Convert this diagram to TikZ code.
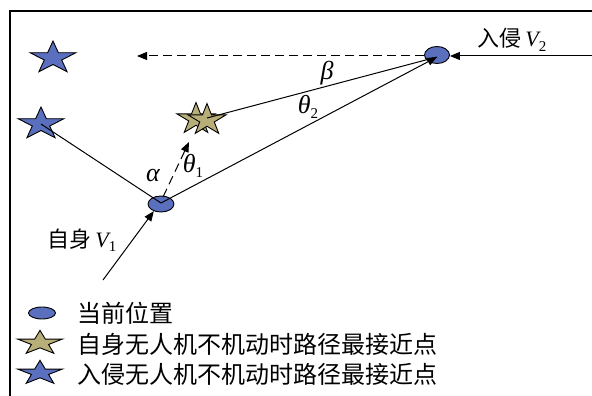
\documentclass[tikz,border=0pt]{standalone}
\usepackage{fontspec}
\setmainfont{Liberation Serif}
\newfontfamily\cjk{Noto Sans CJK SC}
\usetikzlibrary{arrows.meta,shapes.geometric}
\definecolor{uavblue}{RGB}{90,111,190}
\definecolor{uavkhaki}{RGB}{184,174,120}
\newcommand\lowidx[1]{\raisebox{-0.45ex}{\fontsize{15}{15}\selectfont\upshape #1}}
\newcommand\mystar[5]{%
  \begin{scope}[shift={(#1,#2)},xscale=#3,yscale=-#4]
    \draw[fill=#5,line width=0.9pt,line join=miter]
      (90:1) -- (126:0.382) -- (162:1) -- (198:0.382) -- (234:1) -- (270:0.382)
      -- (306:1) -- (342:0.382) -- (18:1) -- (54:0.382) -- cycle;
  \end{scope}}
\tikzset{
  conn/.style={line width=1pt},
  tip/.style={-{Triangle[length=10pt,width=8pt]}},
  dashconn/.style={line width=1pt,dash pattern=on 9pt off 5pt},
  uav/.style={ellipse,draw,fill=uavblue,line width=0.9pt,inner sep=0pt},
  lbl/.style={inner sep=0pt,font=\fontsize{22}{24}\selectfont},
  glbl/.style={inner sep=0pt,font=\fontsize{26}{28}\selectfont\itshape},
  leg/.style={inner sep=0pt,anchor=west,font=\fontsize{24}{26}\selectfont\cjk},
}
\begin{document}
\begin{tikzpicture}[x=1pt,y=-1pt]
\useasboundingbox (0,0) rectangle (592,396);
\fill[white] (0,0) rectangle (592,396);
% frame
\coordinate (fr0) at (10,396);
\coordinate (fr1) at (10,11);
\coordinate (fr2) at (592,11);
\draw[line width=1.3pt] (fr0) -- (fr1) -- (fr2);

% stars
\mystar{53}{58}{24}{17}{uavblue}
\mystar{41}{124}{24}{17}{uavblue}
\mystar{196}{119}{20}{16.5}{uavkhaki}
\mystar{207}{120}{20}{16.5}{uavkhaki}
\coordinate (s2) at (41,124);
\coordinate (ks) at (207,118);

% UAV positions
\node[uav,minimum width=26pt,minimum height=16pt] (v1) at (161,204) {};
\node[uav,minimum width=25pt,minimum height=17pt] (v2) at (437,55) {};
\coordinate (v1c) at (161,203);
\coordinate (v2c) at (437,57);

% connectors
\draw[conn] (s2) -- (v1c);
\draw[conn,tip] (v1c) -- (v2c);
\draw[conn] (ks) -- (v2c);
\coordinate (dtip) at (189,142);
\coordinate (dstart) at (163,197);
\draw[dashconn,tip] (dstart) -- (dtip);
\coordinate (htip) at (137,56);
\draw[dashconn,tip] (v2.west |- htip) -- (htip);
\coordinate (v2in) at (592,56);
\draw[conn,tip] (v2in) -- (v2.east |- v2in);
\coordinate (v1in) at (103,280);
\draw[conn,tip] (v1in) -- (v1.-135);

% labels
\node[glbl] (la) at (153,176) {α};
\node[glbl] (lt1) at (193,166) {θ\lowidx{1}};
\node[glbl] (lb) at (327,73) {β};
\node[glbl] (lt2) at (308,107) {θ\lowidx{2}};
\node[lbl] (lv2) at (512,40) {{\cjk 入侵}\,\itshape V\lowidx{2}};
\node[lbl] (lv1) at (82,240) {{\cjk 自身}\,\itshape V\lowidx{1}};

% legend
\node[uav,minimum width=27pt,minimum height=12pt] (lg0) at (42,313) {};
\mystar{40}{343}{23.5}{12.7}{uavkhaki}
\mystar{40}{373}{23.5}{12.7}{uavblue}
\node[leg] (lt0) at (77,313) {当前位置};
\node[leg] (ltk) at (77,344) {自身无人机不机动时路径最接近点};
\node[leg] (ltb) at (77,374) {入侵无人机不机动时路径最接近点};
\end{tikzpicture}
\end{document}
